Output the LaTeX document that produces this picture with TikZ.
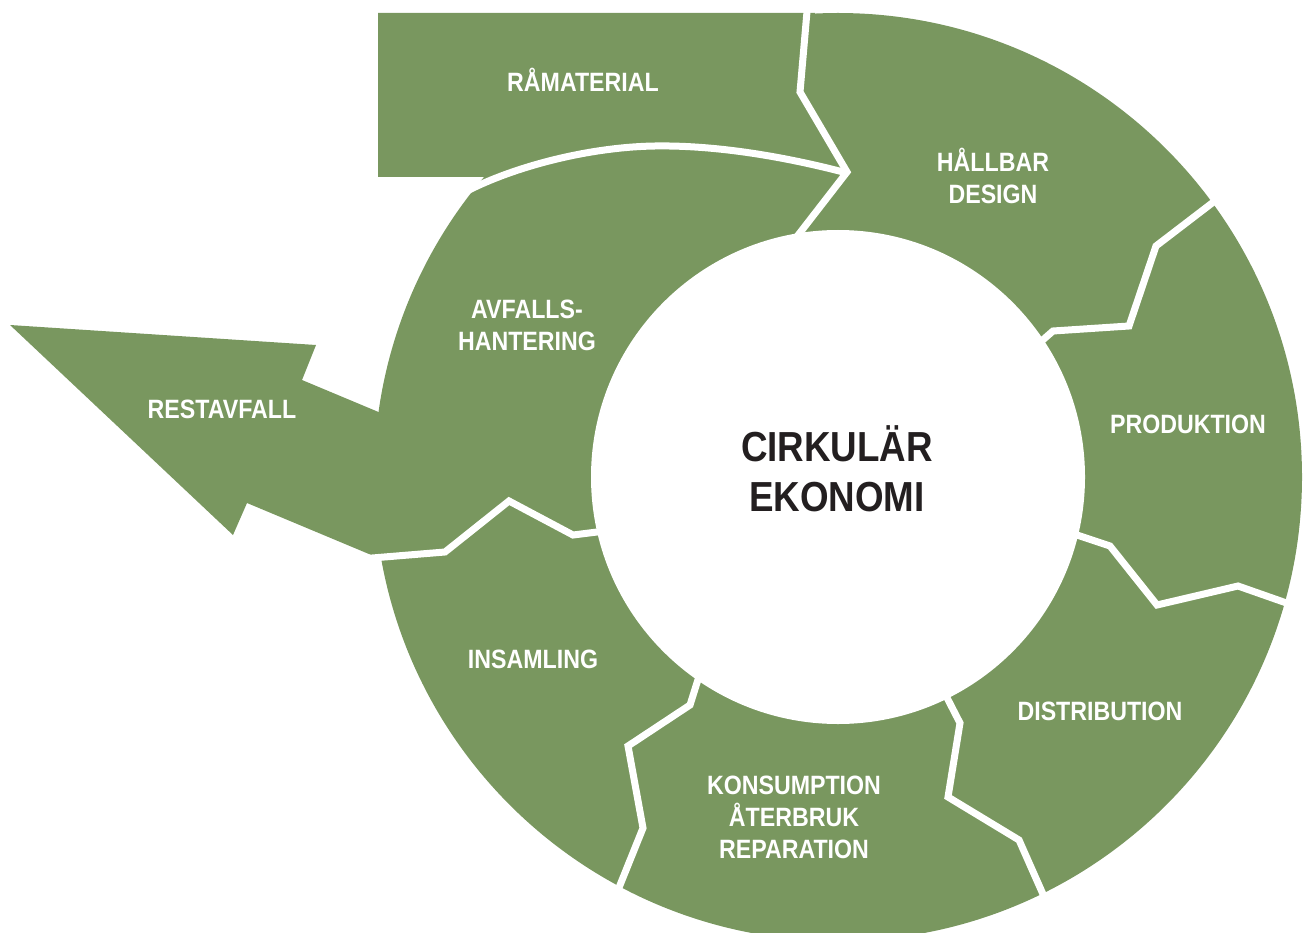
\documentclass[tikz,border=0pt]{standalone}
\usepackage{fontspec}
\setmainfont{Liberation Sans}
\newfontfamily\dinlike[FakeStretch=0.875]{Liberation Sans}
\definecolor{leaf}{RGB}{121,151,95}
\definecolor{ink}{RGB}{35,31,32}
\tikzset{
  sep/.style={draw=white,line width=7pt,line join=miter,line cap=butt},
  lbl/.style={text=white,font=\dinlike\bfseries\fontsize{26.5}{32}\selectfont,align=center,inner sep=0pt},
  ctr/.style={text=ink,font=\dinlike\bfseries\fontsize{42}{50}\selectfont,align=center,inner sep=0pt},
}
\begin{document}
\begin{tikzpicture}[x=1pt,y=-1pt]
\useasboundingbox (0,0) rectangle (1303,933);
\clip (0,0) rectangle (1303,933);
\coordinate (C) at (838,477);
% green ring, raw material block, residual waste arrow
\fill[leaf] (C) circle[radius=464];
\fill[leaf] (378,13) -- (815,13) -- (815,100) -- (856,172) -- (856,177) -- (378,177) -- cycle;
\fill[leaf] (10,325) -- (316,345) -- (302,380) -- (400,421) -- (400,567) -- (247,503) -- (233,535) -- cycle;
\fill[white] (C) circle[radius=247];
% white separators
\draw[sep] (808,0) -- (800,92) -- (847,172) -- (792,243);
\draw[sep] (465,192) .. controls (515,166) and (590,147) .. (655,146)
                     .. controls (720,145) and (790,158) .. (847,173);
\draw[sep] (360,559) -- (445,552) -- (509,501) -- (573,535) -- (605,531);
\draw[sep] (701,670) -- (690,705) -- (628,746) -- (643,828) -- (616,895);
\draw[sep] (942,688) -- (960,723) -- (948,797) -- (1019,840) -- (1046,901);
\draw[sep] (1068,532) -- (1110,546) -- (1157,605) -- (1238,586) -- (1295,606);
\draw[sep] (1037,345) -- (1053,331) -- (1129,326) -- (1156,246) -- (1220,197);
% labels
\node[lbl] (raw) at (583,80) {RÅMATERIAL};
\node[lbl] (design) at (993,176) {HÅLLBAR\\DESIGN};
\node[lbl] (prod) at (1188,424) {PRODUKTION};
\node[lbl] (dist) at (1100,711) {DISTRIBUTION};
\node[lbl] (cons) at (794,817) {KONSUMPTION\\ÅTERBRUK\\REPARATION};
\node[lbl] (coll) at (533,659) {INSAMLING};
\node[lbl] (waste) at (527,325) {AVFALLS-\\HANTERING};
\node[lbl] (rest) at (222,409) {RESTAVFALL};
\node[ctr] (core) at (837,469) {CIRKULÄR\\EKONOMI};
\end{tikzpicture}
\end{document}
